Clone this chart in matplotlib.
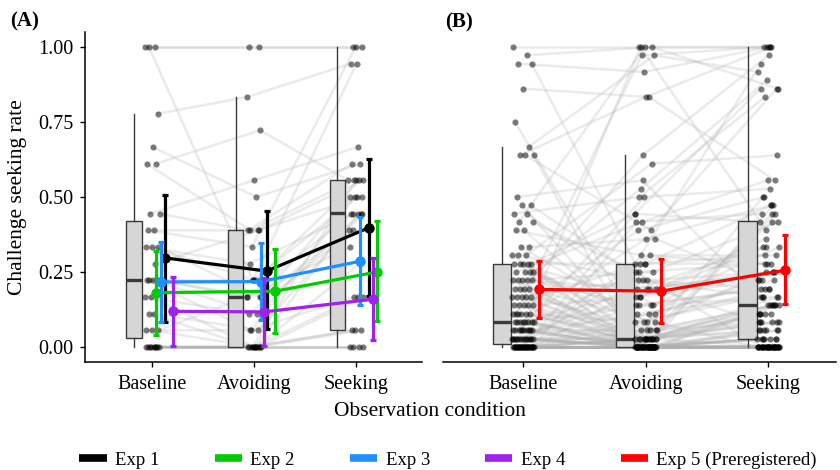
import numpy as np
import matplotlib.pyplot as plt
from matplotlib.lines import Line2D

plt.rcParams['font.family'] = ['Liberation Serif', 'DejaVu Serif']

conditions = ['Baseline', 'Avoiding', 'Seeking']

# panel A: participants of Exp 1-4 (rates in steps of 1/18)
a_base = np.array([18, 18, 18, 14, 12, 11, 11, 8, 8, 7, 7, 6, 6, 6, 5, 4, 4, 4,
                   4, 4, 3, 3, 2, 2, 1, 1, 1, 0, 0, 0, 0, 0, 0, 0, 0, 0]) / 18
a_avoid = np.array([18, 18, 4, 15, 9, 7, 13, 10, 7, 7, 6, 3, 4, 5, 7, 4, 3, 2,
                    1, 3, 0, 2, 1, 0, 3, 0, 1, 0, 0, 0, 0, 0, 0, 0, 0, 0]) / 18
a_seek = np.array([18, 18, 17, 17, 11, 10, 10, 12, 11, 9, 18, 9, 10, 8, 10, 9, 8, 8,
                   9, 7, 8, 7, 8, 10, 6, 5, 3, 3, 3, 1, 1, 1, 0, 0, 0, 0]) / 18

# panel B: participants of Exp 5 (rates in steps of 1/36)
b_base = np.array([36, 35, 34, 34, 31, 27, 24, 23, 23, 23, 18,
                   17, 17, 16, 16, 15, 15, 14, 14, 12, 12,
                   11, 11, 11, 10, 10, 10, 10, 10,
                   9, 9, 9, 9, 8, 8, 8, 8, 8,
                   7, 7, 7, 7, 6, 6, 6, 6, 6,
                   5, 5, 5, 5, 5, 4, 4, 4, 4, 4, 4,
                   3, 3, 3, 3, 3, 3, 3, 3,
                   2, 2, 2, 2, 2, 2, 2, 2, 2, 2,
                   1, 1, 1, 1, 1, 1, 1, 1, 1, 1, 1, 1, 1, 1,
                   0, 0, 0, 0, 0, 0, 0, 0, 0, 0, 0, 0, 0, 0, 0,
                   0, 0, 0, 0, 0, 0, 0, 0, 0, 0, 0, 0, 0, 0, 0]) / 36
b_avoid = np.array([36, 36, 33, 10, 30, 2, 35, 30, 0, 14, 20,
                    7, 0, 18, 5, 36, 9, 1, 11, 13, 3,
                    0, 22, 8, 16, 1, 6, 0, 10,
                    4, 0, 15, 2, 7, 1, 9, 0, 5,
                    0, 19, 3, 1, 8, 0, 23, 2, 0,
                    10, 1, 0, 6, 0, 35, 0, 1, 14, 0, 3,
                    0, 7, 1, 0, 13, 0, 5, 0,
                    1, 0, 9, 0, 18, 0, 2, 0, 4, 0,
                    0, 1, 0, 16, 0, 6, 0, 1, 0, 11, 0, 0, 8, 0,
                    0, 1, 3, 0, 36, 0, 1, 7, 0, 0, 1, 0, 5, 0, 0,
                    15, 0, 0, 0, 2, 0, 1, 0, 1, 4, 0, 0, 10, 0, 0]) / 36
b_seek = np.array([36, 31, 36, 34, 20, 9, 33, 36, 18, 31, 5,
                   3, 17, 30, 12, 36, 0, 16, 10, 8, 15,
                   2, 23, 7, 31, 0, 12, 5, 17,
                   6, 1, 20, 3, 9, 4, 15, 0, 7,
                   5, 32, 0, 16, 6, 2, 35, 4, 0,
                   11, 3, 0, 8, 1, 36, 0, 5, 18, 0, 7,
                   0, 9, 2, 0, 17, 1, 6, 0,
                   4, 0, 10, 2, 19, 0, 5, 0, 8, 0,
                   1, 3, 0, 15, 0, 13, 0, 4, 1, 11, 0, 2, 9, 0,
                   0, 5, 6, 0, 14, 0, 3, 12, 0, 0, 2, 0, 7, 0, 1,
                   16, 0, 0, 4, 5, 0, 6, 0, 3, 8, 0, 1, 10, 0, 0]) / 36

# box statistics: whisker low, q1, median, q3, whisker high
box_a = [[0.0, 0.03, 0.222, 0.42, 0.778],
         [0.0, 0.0, 0.167, 0.39, 0.833],
         [0.0, 0.056, 0.446, 0.556, 1.0]]
box_b = [[0.0, 0.011, 0.083, 0.278, 0.667],
         [0.0, 0.0, 0.028, 0.278, 0.639],
         [0.0, 0.028, 0.139, 0.419, 1.0]]

# means and 95% CI per experiment
exp_names = ['Exp 1', 'Exp 2', 'Exp 3', 'Exp 4', 'Exp 5 (Preregistered)']
exp_colors = ['black', '#00CD00', '#1E90FF', '#A020F0', '#FF0000']
exp_mean = [[0.297, 0.253, 0.398], [0.181, 0.186, 0.250], [0.217, 0.218, 0.286],
            [0.119, 0.117, 0.159], [0.192, 0.186, 0.256]]
exp_lo = [[0.083, 0.060, 0.170], [0.039, 0.048, 0.087], [0.083, 0.089, 0.139],
          [0.002, 0.004, 0.024], [0.098, 0.081, 0.142]]
exp_hi = [[0.508, 0.452, 0.626], [0.320, 0.326, 0.420], [0.350, 0.347, 0.433],
          [0.233, 0.230, 0.297], [0.287, 0.295, 0.372]]
# horizontal jitter of the summary bars
exp_shift = [[0.125, 0.125, 0.13], [0.042, 0.21, 0.205], [0.082, 0.07, 0.042],
             [0.2, 0.097, 0.165], [0.13, 0.122, 0.138]]


def spread(n, width, phase):
    # deterministic jitter of the dots
    return ((np.arange(n) * 0.618034 + phase) % 1 - 0.5) * 2 * width


def panel(ax, data, box, box_off, jit, exps):
    n = len(data[0])
    xs = [i + 1 + spread(n, jit, 0.13 * i + 0.05) for i in range(3)]
    for k in range(n):
        ax.plot([xs[0][k], xs[1][k], xs[2][k]], [d[k] for d in data],
                color='#b0b0b0', alpha=0.25, lw=1.8, zorder=1)
    stats = [dict(whislo=b[0], q1=b[1], med=b[2], q3=b[3], whishi=b[4], fliers=[])
             for b in box]
    ax.bxp(stats, positions=[1 + box_off, 2 + box_off, 3 + box_off], widths=0.15,
           patch_artist=True, showcaps=False, manage_ticks=False,
           boxprops=dict(facecolor='#d6d6d6', edgecolor='#3a3a3a', lw=1.0),
           medianprops=dict(color='#3a3a3a', lw=2.4),
           whiskerprops=dict(color='#3a3a3a', lw=1.0), zorder=2)
    for i in range(3):
        ax.scatter(xs[i], data[i], s=20, color='black', alpha=0.5, lw=0, zorder=3)
    for e in exps:
        x = np.arange(1, 4) + np.array(exp_shift[e])
        m = np.array(exp_mean[e])
        err = [m - np.array(exp_lo[e]), np.array(exp_hi[e]) - m]
        ax.plot(x, m, color=exp_colors[e], lw=2.3, zorder=4 + e * 0.1)
        ax.errorbar(x, m, yerr=err, fmt='o', color=exp_colors[e], ms=6.5,
                    elinewidth=2.3, capsize=2.5, capthick=2.3, zorder=4 + e * 0.1)
    ax.set_ylim(-0.05, 1.05)
    ax.set_xticks([1, 2, 3])
    ax.set_xticklabels(conditions)
    ax.tick_params(axis='x', labelsize=14.5, length=3.5, width=1, pad=6)
    for s in ['top', 'right']:
        ax.spines[s].set_visible(False)
    ax.spines['bottom'].set_linewidth(1.1)


fig = plt.figure(figsize=(8.4, 4.7), dpi=100)
ax1 = fig.add_axes([85 / 840, 108 / 470, 337 / 840, 330 / 470])
ax2 = fig.add_axes([443 / 840, 108 / 470, 393 / 840, 330 / 470])

panel(ax1, [a_base, a_avoid, a_seek], box_a, -0.18, 0.075, [0, 1, 2, 3])
ax1.set_xlim(0.34, 3.65)
ax1.set_yticks([0, 0.25, 0.5, 0.75, 1.0])
ax1.set_yticklabels(['0.00', '0.25', '0.50', '0.75', '1.00'])
ax1.tick_params(axis='y', labelsize=14.5, length=3.5, width=1, pad=5)
ax1.spines['left'].set_linewidth(1.1)

panel(ax2, [b_base, b_avoid, b_seek], box_b, -0.17, 0.09, [4])
ax2.set_xlim(0.35, 3.55)
ax2.spines['left'].set_visible(False)
ax2.set_yticks([])

fig.text(10 / 840, 1 - 21 / 470, '(A)', fontsize=15, fontweight='bold', va='center')
fig.text(445 / 840, 1 - 22 / 470, '(B)', fontsize=15, fontweight='bold', va='center')
fig.text(18 / 840, 1 - 197 / 470, 'Challenge seeking rate', fontsize=15.5,
         rotation=90, ha='center', va='center')
fig.text(430 / 840, 1 - 411 / 470, 'Observation condition', fontsize=15.5,
         ha='center', va='center')

handles = [Line2D([], [], color=c, lw=5.5, solid_capstyle='butt') for c in exp_colors]
fig.legend(handles, exp_names, loc='center', bbox_to_anchor=(448 / 840, 10 / 470),
           ncol=5, frameon=False, fontsize=13.5, handlelength=1.45,
           handletextpad=0.45, columnspacing=2.95, borderpad=0)

fig.savefig('out.png', dpi=100)
